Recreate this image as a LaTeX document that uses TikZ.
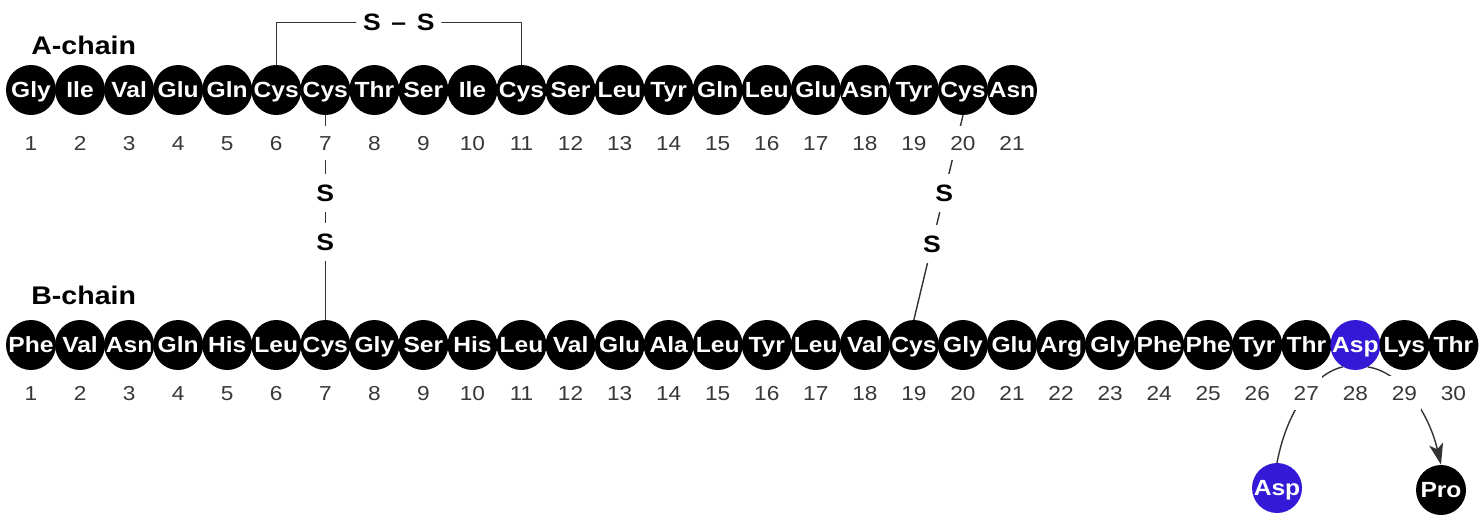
\documentclass[tikz,border=0pt]{standalone}
\usepackage{fontspec}
\setmainfont{Liberation Sans}[FakeStretch=1.12]
\usetikzlibrary{arrows.meta,calc}
\definecolor{aspblue}{RGB}{52,26,214}
\tikzset{
	res/.style={circle, fill=black, text=white, minimum size=1cm, inner sep=0pt, text height=9pt, text depth=0pt, font=\bfseries\fontsize{12.5}{13}\selectfont},
	num/.style={fill=white, text=black!78, inner xsep=2pt, inner ysep=5.5pt, text height=8.3pt, text depth=0pt, font=\fontsize{11.5}{12}\selectfont},
	sulf/.style={fill=white, inner xsep=4pt, inner ysep=6pt, font=\bfseries\fontsize{13.5}{14}\selectfont},
	chainlbl/.style={anchor=west, inner sep=0pt, font=\bfseries\fontsize{14.5}{15}\selectfont},
	bond/.style={draw=black!80, line width=0.8pt},
}
\begin{document}
\begin{tikzpicture}[x=0.02cm, y=-0.02cm, >={Stealth[length=12pt,width=8pt,inset=3pt]}, line join=round, line cap=round]
	\def\dx{49.05}
	\def\ya{90} \def\yb{345}
	\useasboundingbox (0,0) rectangle (1479,515);
	% chain labels
	\node[chainlbl] (lblA) at (31,45) {A-chain};
	\node[chainlbl] (lblB) at (31,295) {B-chain};
	% residues
	\foreach \r [count=\i] in {Gly,Ile,Val,Glu,Gln,Cys,Cys,Thr,Ser,Ile,Cys,Ser,Leu,Tyr,Gln,Leu,Glu,Asn,Tyr,Cys,Asn}
		\node[res] (A\i) at ({31+(\i-1)*\dx},\ya) {\r};
	\foreach \r [count=\i] in {Phe,Val,Asn,Gln,His,Leu,Cys,Gly,Ser,His,Leu,Val,Glu,Ala,Leu,Tyr,Leu,Val,Cys,Gly,Glu,Arg,Gly,Phe,Phe,Tyr,Thr,Asp,Lys,Thr}{
		\ifnum\i=28 \def\fc{aspblue}\else\def\fc{black}\fi
		\node[res, fill=\fc] (B\i) at ({31+(\i-1)*\dx},\yb) {\r};
	}
	% substitutions
	\node[res, fill=aspblue] (asp) at (1277,488) {Asp};
	\node[res] (pro) at (1441,490) {Pro};
	% disulfide bridges
	\node[sulf] (ss) at ($(A6.north)!0.5!(A11.north)+(0,-42)$) {S\hspace{6pt}--\hspace{6pt}S};
	\draw[bond] (ss) -| (A6.north);
	\draw[bond] (ss) -| (A11.north);
	\draw[bond] (A7.south) -- node[sulf, pos=0.38] (s1) {S} node[sulf, pos=0.62] (s2) {S} (B7.north);
	\draw[bond] (A20.south) -- node[sulf, pos=0.38] (s3) {S} node[sulf, pos=0.63] (s4) {S} (B19.north);
	% B28 swap
	\draw[bond] (B28.-120) .. controls (1318,372) and (1288,405) .. (asp.north);
	\draw[bond, ->] (B28.-60) .. controls (1400,372) and (1428,410) .. (pro.north);
	% numbers
	\foreach \i in {1,...,21}
		\node[num] (nA\i) at ($(A\i)+(0,53)$) {\i};
	\foreach \i in {1,...,30}
		\node[num] (nB\i) at ($(B\i)+(0,48)$) {\i};
\end{tikzpicture}
\end{document}
